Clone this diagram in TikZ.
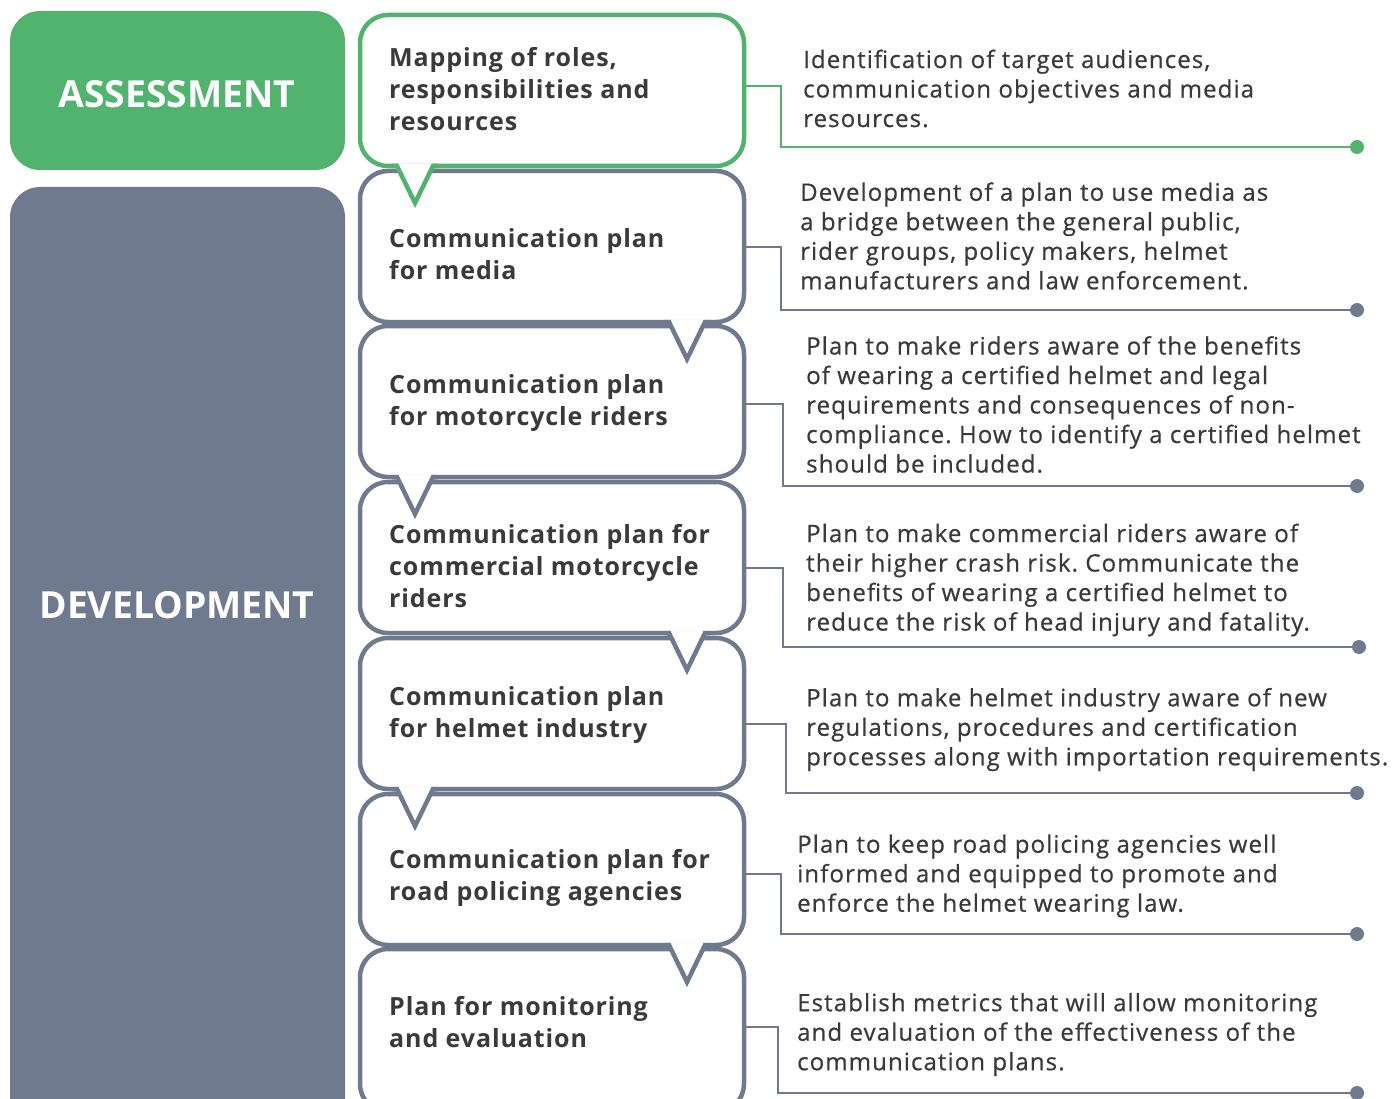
\documentclass[tikz,border=0pt]{standalone}
\usepackage{fontspec}
\setmainfont{Open Sans}
\newfontfamily\descfont{Open Sans}[LetterSpace=4.6, FakeBold=0.6]
\newfontfamily\stagefont{Open Sans}[LetterSpace=3.6]
\usepackage{tikz}
\usepackage{xcolor}
\frenchspacing

\definecolor{assessgreen}{RGB}{82,179,110}
\definecolor{devgrey}{RGB}{111,122,142}
\definecolor{textgrey}{RGB}{58,58,58}

% speech bubble: #1 colour, #2 top, #3 bottom, #4 x of the tail
\newcommand{\bubble}[4]{%
  \filldraw[fill=white, draw=#1, line width=4.5pt, rounded corners=28pt] (360,#2) rectangle (744,#3);
  \fill[white] (#4-18,#3-2.7) -- (#4+18,#3-2.7) -- (#4+18,#3) -- (#4,#3+37) -- (#4-18,#3) -- cycle;
  \draw[#1, line width=4.5pt, line join=miter] (#4-23,#3) -- (#4-18,#3) -- (#4,#3+37) -- (#4+18,#3) -- (#4+23,#3);
}

\begin{document}
\begin{tikzpicture}[x=1pt, y=-1pt,
  phase/.style={text=white, font=\fontsize{37.3}{44}\selectfont\bfseries},
  stage/.style={anchor=west, align=left, inner sep=0pt, text=textgrey, font=\stagefont\fontsize{25}{32}\selectfont\bfseries},
  desc/.style={anchor=west, align=left, inner sep=0pt, text=textgrey, font=\descfont\fontsize{24}{29.5}\selectfont},
  link/.style={line width=2.5pt},
  dot/.style={circle, inner sep=0pt, minimum size=14pt}]
\useasboundingbox (0,0) rectangle (1396,1099);
\clip (0,0) rectangle (1396,1099);

% phases on the left
\fill[assessgreen, rounded corners=30pt] (10,11) rectangle (345,170);
\fill[devgrey, rounded corners=30pt] (10,187) rectangle (345,1140);
\node[phase] (assess) at (177,94) {ASSESSMENT};
\node[phase] (develop) at (177,605) {DEVELOPMENT};

% bubbles, last one first so each tail lies on the next box
\filldraw[fill=white, draw=devgrey, line width=4.5pt, rounded corners=28pt] (360,949) rectangle (744,1112);
\bubble{devgrey}{794}{945}{687}
\bubble{devgrey}{638}{789}{415}
\bubble{devgrey}{482}{633}{687}
\bubble{devgrey}{326}{477}{415}
\bubble{devgrey}{171}{322}{687}
\bubble{assessgreen}{15}{166}{415}

\node[stage] (s1) at (389,89) {Mapping of roles,\\responsibilities and\\resources};
\node[stage] (s2) at (389,254) {Communication plan\\for media};
\node[stage] (s3) at (389,403) {Communication plan\\for motorcycle riders};
\node[stage] (s4) at (389,566) {Communication plan for\\commercial motorcycle\\riders};
\node[stage] (s5) at (389,715) {Communication plan\\for helmet industry};
\node[stage] (s6) at (389,878) {Communication plan for\\road policing agencies};
\node[stage] (s7) at (389,1022) {Plan for monitoring\\and evaluation};

% bubble edges and end dots
\coordinate (e1) at (746,86);
\coordinate (e2) at (746,247);
\coordinate (e3) at (746,404);
\coordinate (e4) at (746,568);
\coordinate (e5) at (746,724);
\coordinate (e6) at (746,874);
\coordinate (e7) at (744,1027);
\node[dot, fill=assessgreen] (d1) at (1357,147) {};
\node[dot, fill=devgrey] (d2) at (1357,310) {};
\node[dot, fill=devgrey] (d3) at (1357,486) {};
\node[dot, fill=devgrey] (d4) at (1359,647) {};
\node[dot, fill=devgrey] (d5) at (1357,793) {};
\node[dot, fill=devgrey] (d6) at (1357,934) {};
\node[dot, fill=devgrey] (d7) at (1357,1093) {};

\draw[link, assessgreen] (e1) -- ++(35,0) |- (d1);
\draw[link, devgrey] (e2) -- ++(35,0) |- (d2);
\draw[link, devgrey] (e3) -- ++(37,0) |- (d3);
\draw[link, devgrey] (e4) -- ++(37,0) |- (d4);
\draw[link, devgrey] (e5) -- ++(40,0) |- (d5);
\draw[link, devgrey] (e6) -- ++(35,0) |- (d6);
\draw[link, devgrey] (e7) -- ++(34,0) |- (d7);

% descriptions
\node[desc] (t1) at (803,88.5) {Identification of target audiences,\\communication objectives and media\\resources.};
\node[desc] (t2) at (800,236) {Development of a plan to use media as\\a bridge between the general public,\\rider groups, policy makers, helmet\\manufacturers and law enforcement.};
\node[desc] (t3) at (806,404.5) {Plan to make riders aware of the benefits\\of wearing a certified helmet and legal\\requirements and consequences of non-\\compliance. How to identify a certified helmet\\should be included.};
\node[desc] (t4) at (806,580) {Plan to make commercial riders aware of\\their higher crash risk. Communicate the\\benefits of wearing a certified helmet to\\reduce the risk of head injury and fatality.};
\node[desc] (t5) at (806,729.5) {Plan to make helmet industry aware of new\\regulations, procedures and certification\\processes along with importation requirements.};
\node[desc] (t6) at (797,876) {Plan to keep road policing agencies well\\informed and equipped to promote and\\enforce the helmet wearing law.};
\node[desc] (t7) at (797,1034.5) {Establish metrics that will allow monitoring\\and evaluation of the effectiveness of the\\communication plans.};
\end{tikzpicture}
\end{document}
